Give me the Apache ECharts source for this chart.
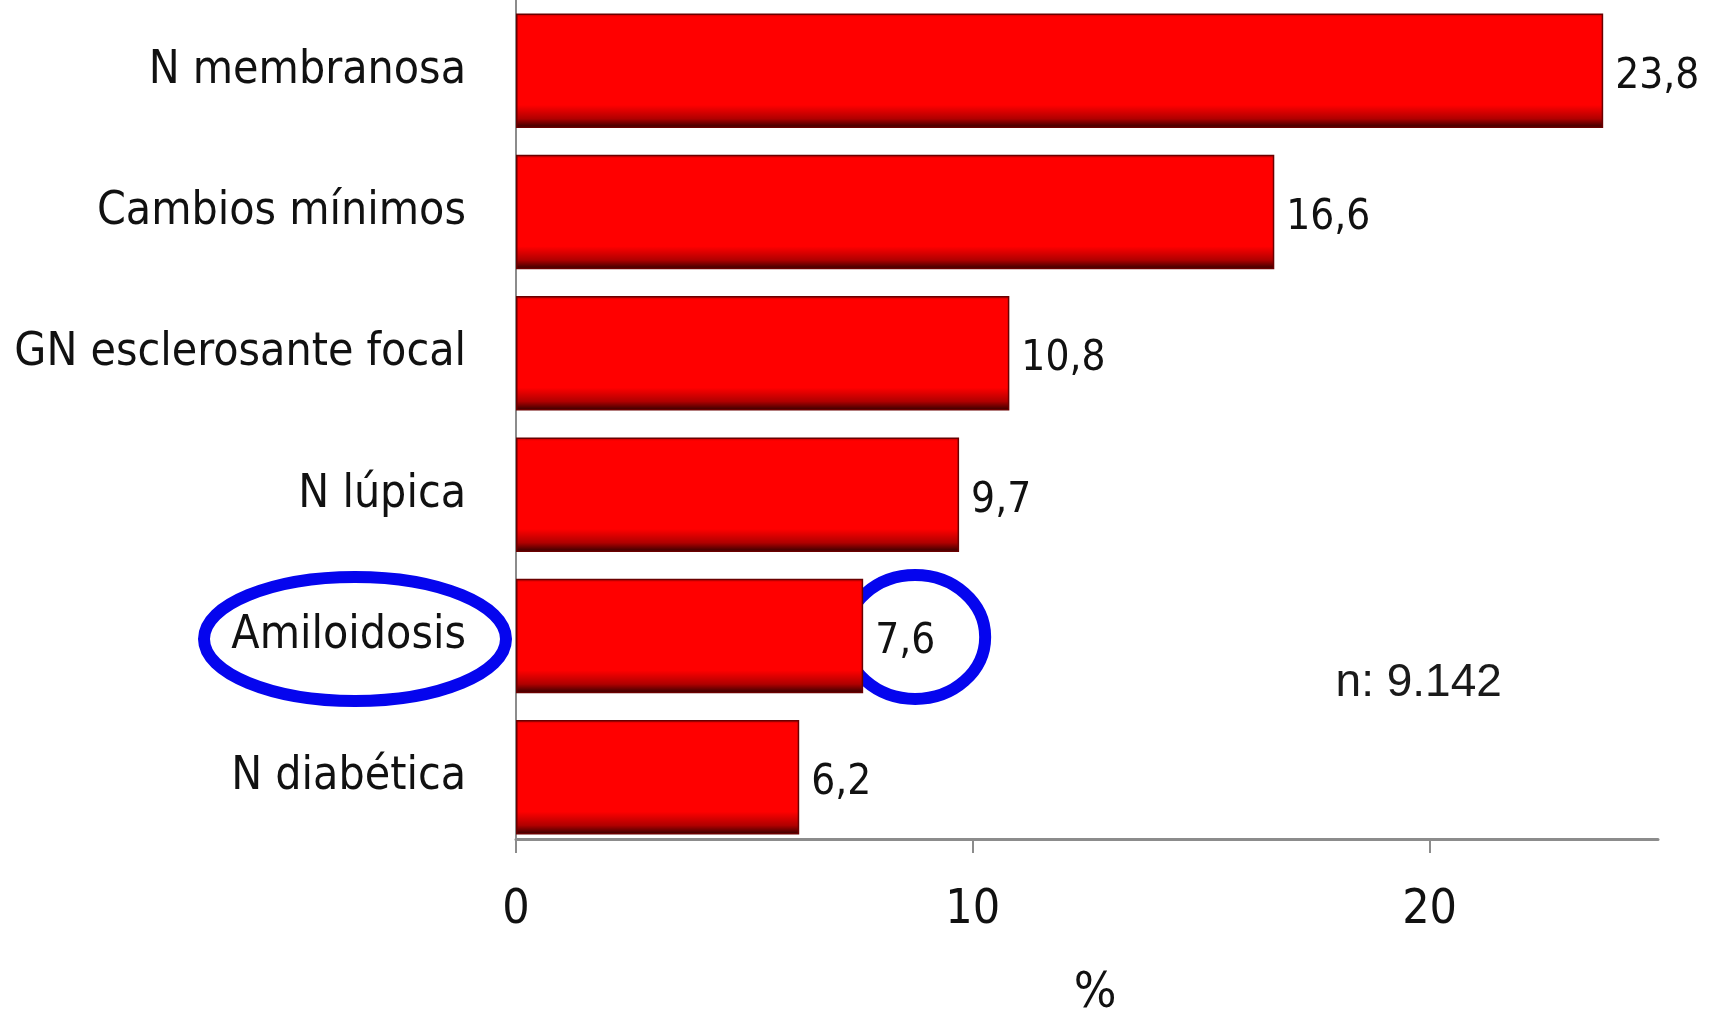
<!DOCTYPE html>
<html>
<head>
<meta charset="utf-8">
<title>Glomerulopatías</title>
<script src="https://cdn.jsdelivr.net/npm/echarts@6/dist/echarts.min.js"></script>
<style>
  html, body { margin: 0; padding: 0; background: #ffffff; }
  #chart { width: 1728px; height: 1024px; }
</style>
</head>
<body>
<div id="chart"></div>
<script>
// Diagnósticos histológicos (%)
const categories = ['N membranosa', 'Cambios mínimos', 'GN esclerosante focal', 'N lúpica', 'Amiloidosis', 'N diabética'];
const percentages = [23.8, 16.6, 10.8, 9.7, 7.6, 6.2];
const xTicks = [0, 10, 20];
const sampleNote = 'n: 9.142';
const highlighted = 'Amiloidosis';

const condensed = '"DejaVu Sans Condensed", "Liberation Sans Narrow", "DejaVu Sans", sans-serif';

const chart = echarts.init(document.getElementById('chart'), null, { renderer: 'canvas' });

const barFill = new echarts.graphic.LinearGradient(0, 0, 0, 1, [
  { offset: 0, color: '#b00000' },
  { offset: 0.03, color: '#ff0000' },
  { offset: 0.80, color: '#ff0000' },
  { offset: 0.92, color: '#b00000' },
  { offset: 1, color: '#300000' }
]);

chart.setOption({
  backgroundColor: '#ffffff',
  animation: false,
  grid: { left: 516, right: 70, top: -2, bottom: 170, containLabel: false },
  xAxis: {
    type: 'value',
    min: 0,
    max: 25,
    interval: 10,
    offset: -9,
    name: '%',
    nameLocation: 'middle',
    nameGap: 130,
    nameTextStyle: { fontFamily: condensed, fontSize: 50, color: '#111111', padding: [0, 0, 0, 16] },
    splitLine: { show: false },
    axisLine: { show: true, lineStyle: { color: '#8c8c8c', width: 3 } },
    axisTick: { show: true, length: 14, customValues: xTicks, lineStyle: { color: '#8c8c8c', width: 2 } },
    axisLabel: {
      customValues: xTicks,
      margin: 48,
      fontFamily: condensed,
      fontSize: 48,
      color: '#111111',
      formatter: v => (xTicks.indexOf(v) >= 0 ? String(v) : '')
    }
  },
  yAxis: {
    type: 'category',
    inverse: true,
    data: categories,
    axisLine: { show: true, lineStyle: { color: '#8c8c8c', width: 2 } },
    axisTick: { show: false },
    axisLabel: {
      margin: 50,
      fontFamily: condensed,
      fontSize: 46,
      color: '#111111',
      padding: [6, 0, 0, 0]
    }
  },
  series: [{
    type: 'bar',
    data: percentages,
    barCategoryGap: '19%',
    itemStyle: { color: barFill, borderColor: '#6a0000', borderWidth: 1.5 },
    label: {
      show: true,
      position: 'right',
      distance: 12,
      offset: [0, 6],
      fontFamily: condensed,
      fontSize: 42,
      color: '#111111',
      formatter: p => String(p.value).replace('.', ',')
    }
  }]
});

// Anotaciones: texto de la muestra y círculos azules sobre la categoría destacada
const idx = categories.indexOf(highlighted);
const yHi = chart.convertToPixel({ yAxisIndex: 0 }, highlighted);
const x0 = chart.convertToPixel({ xAxisIndex: 0 }, 0);
const xVal = chart.convertToPixel({ xAxisIndex: 0 }, percentages[idx]);
const x20 = chart.convertToPixel({ xAxisIndex: 0 }, 20);

chart.setOption({
  graphic: [
    {
      type: 'text',
      left: x20 - 94,
      top: yHi + 24,
      style: { text: sampleNote, fontFamily: '"Liberation Sans", Arial, sans-serif', fontSize: 46, fill: '#1a1a1a' }
    },
    {
      type: 'ellipse',
      shape: { cx: x0 - 161, cy: yHi + 3, rx: 151, ry: 62 },
      style: { fill: 'none', stroke: '#0505ee', lineWidth: 12 }
    },
    {
      type: 'ellipse',
      shape: { cx: xVal + 52, cy: yHi + 1, rx: 70, ry: 62 },
      style: { fill: 'none', stroke: '#0505ee', lineWidth: 12 }
    }
  ]
});
</script>
</body>
</html>
